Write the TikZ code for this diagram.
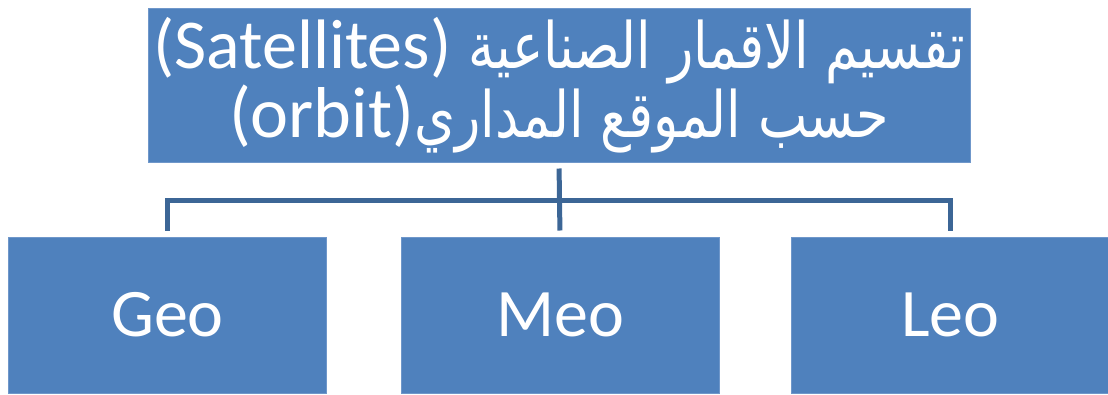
\documentclass[tikz,border=0pt]{standalone}
\usepackage{fontspec}
\setmainfont{Carlito}
\newfontfamily\arabicfont[Script=Arabic, FakeStretch=0.82]{DejaVu Sans}
\TeXXeTstate=1
\definecolor{boxfill}{HTML}{4F81BD}
\definecolor{boxedge}{HTML}{6F97CA}
\definecolor{linkblue}{HTML}{3C6696}
\tikzset{>=stealth}
\tikzset{
  box/.style={draw=boxedge, line width=1pt, fill=boxfill, text=white, inner sep=0pt,
    minimum width=318pt, minimum height=156pt, font=\fontsize{68}{80}\selectfont},
  link/.style={draw=linkblue, line width=5pt, shorten <=6pt, shorten >=6pt}
}

\begin{document}
\begin{tikzpicture}[x=1pt, y=-1pt]
\useasboundingbox (0,0) rectangle (1108,394);
% top box
\node[box, minimum width=822pt, minimum height=154pt, align=center,
  font=\fontsize{64}{68}\selectfont] (orbit) at (559,85)
  {\arabicfont\beginR تقسيم الاقمار الصناعية {\rmfamily\fontsize{70}{68}\selectfont\beginL(Satellites)\endL}\endR\\
   \arabicfont\beginR حسب الموقع المداري{\rmfamily\fontsize{72}{68}\selectfont\beginL(orbit)\endL}\endR};
% orbit classes
\node[box] (geo) at (167.5,315) {Geo};
\node[box] (meo) at (560,315) {Meo};
\node[box] (leo) at (950.5,315) {Leo};
% connectors
\coordinate (bus) at (560,200);
\draw[link] (orbit.south) -- (meo.north);
\draw[link] (geo.north) |- (bus) -| (leo.north);
\end{tikzpicture}
\end{document}
